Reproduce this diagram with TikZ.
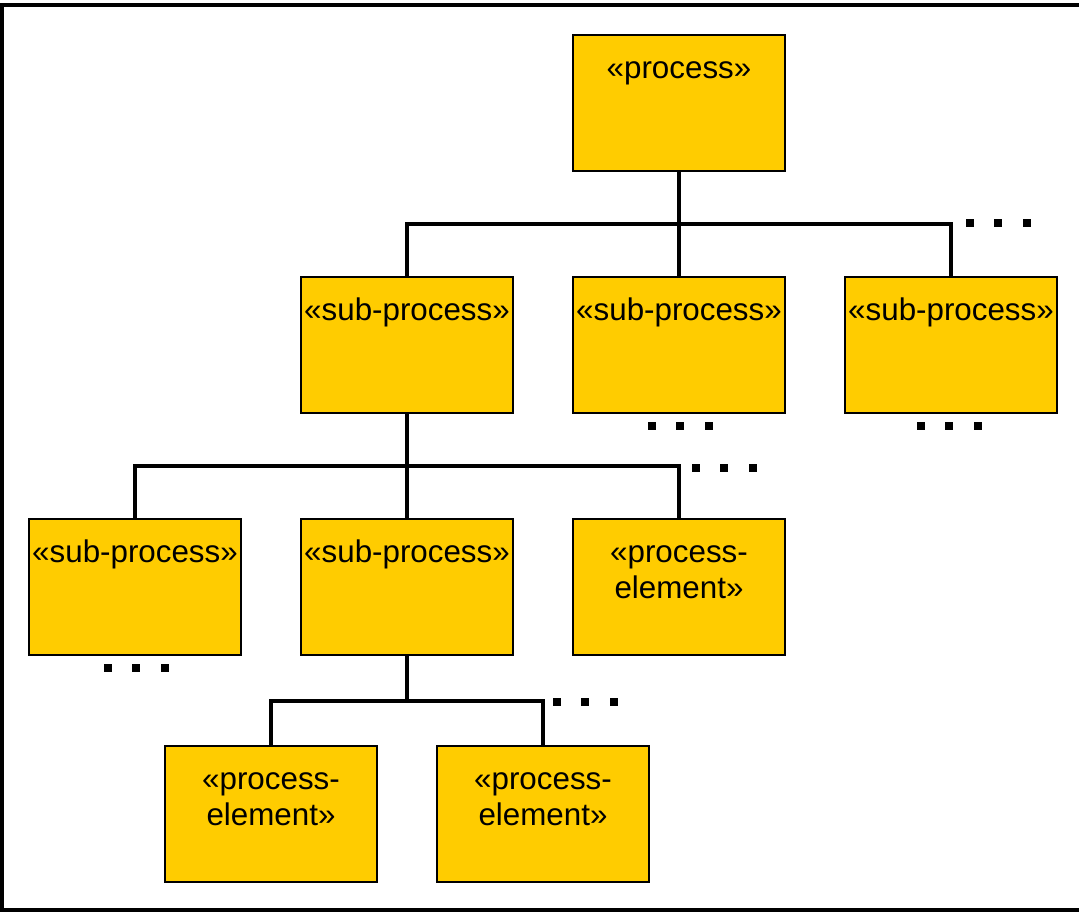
\documentclass[tikz,border=0pt]{standalone}
\usepackage{fontspec}
\setmainfont{Liberation Sans}
\definecolor{procyellow}{HTML}{FFCC00}

\begin{document}
\begin{tikzpicture}[x=0.75pt, y=-0.75pt,
        box/.style={draw=black, line width=2pt, fill=procyellow, inner sep=0pt,
            text width=159pt, align=center, text height=32.5pt, text depth=69.5pt,
            font=\fontsize{23.5}{27}\selectfont},
        bus/.style={line width=3.4pt},
        dot/.style={rectangle, fill=black, inner sep=0pt, minimum size=6pt},
        frame/.style={draw=black, line width=2.4pt}
    ]
    \useasboundingbox (0,0) rectangle (1079,912);
    \draw[frame] (2,5) rectangle (1085,910);

    % --- LIVELLO 1: process ---
    \node[box] (proc) at (679,103) {«process»};

    % --- LIVELLO 2 ---
    \node[box] (sp1) at (407,345) {«sub-process»};
    \node[box] (sp2) at (679,345) {«sub-process»};
    \node[box] (sp3) at (951,345) {«sub-process»};

    \coordinate (j1) at (679,224);
    \draw[bus] (proc.south) -- (sp2.north);
    \draw[bus] (sp1.north) |- (j1) -| (sp3.north);

    % --- LIVELLO 3 ---
    \node[box] (sp11) at (135,587) {«sub-process»};
    \node[box] (sp12) at (407,587) {«sub-process»};
    \node[box] (pe1) at (679,587) {«process-\\element»};

    \coordinate (j2) at (407,466);
    \draw[bus] (sp1.south) -- (sp12.north);
    \draw[bus] (sp11.north) |- (j2) -| (pe1.north);

    % --- LIVELLO 4 ---
    \node[box] (pe2) at (271,814) {«process-\\element»};
    \node[box] (pe3) at (543,814) {«process-\\element»};

    \coordinate (j3) at (407,701);
    \draw[bus] (sp12.south) -- (j3);
    \draw[bus] (pe2.north) |- (j3) -| (pe3.north);

    % Puntini
    \foreach \i in {0,1,2} {
        \node[dot] (dA\i) at (970+28.4*\i, 223) {};
        \node[dot] (dB\i) at (652+28.4*\i, 426) {};
        \node[dot] (dC\i) at (921+28.4*\i, 426) {};
        \node[dot] (dD\i) at (696+28.4*\i, 468) {};
        \node[dot] (dE\i) at (108+28.4*\i, 668) {};
        \node[dot] (dF\i) at (557+28.4*\i, 702) {};
    }

\end{tikzpicture}
\end{document}
